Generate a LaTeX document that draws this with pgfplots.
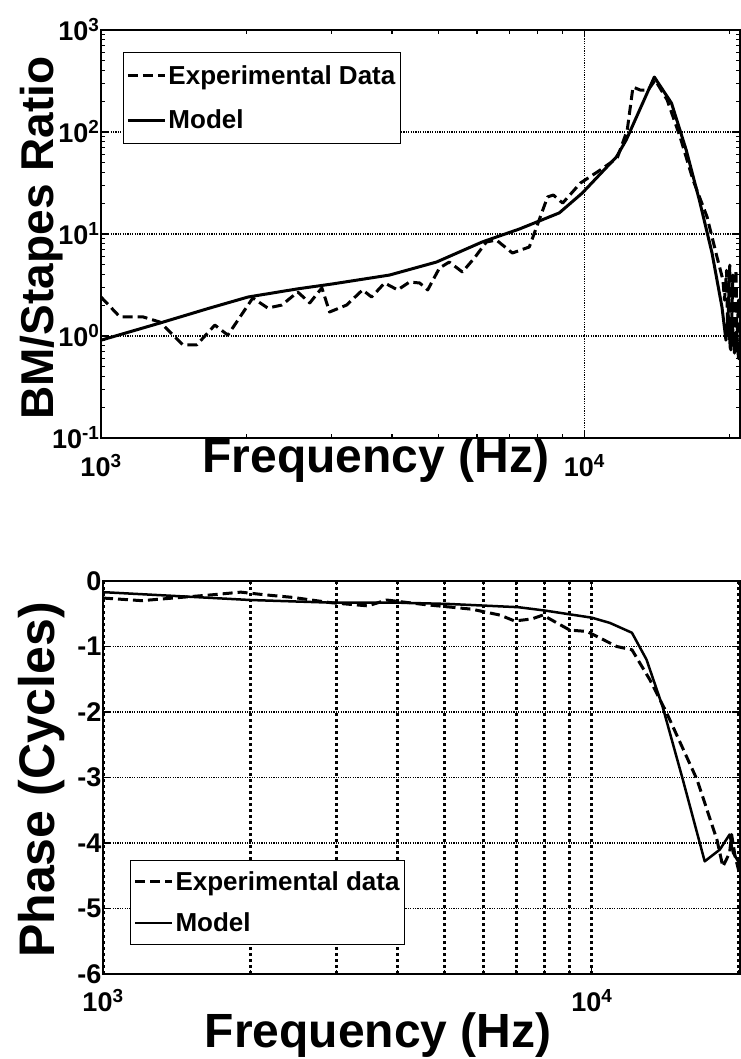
\documentclass[border=0pt]{standalone}
\usepackage{fontspec}
\setmainfont{Liberation Sans}
\usepackage{pgfplots}
\pgfplotsset{compat=1.18}
\pgfplotsset{
  mystyle/.style={
    scale only axis,
    axis line style={line width=2.5pt},
    tick align=inside,
    major tick length=7pt,
    minor tick length=4pt,
    tick style={line width=1.2pt, black},
    ticklabel style={font=\fontsize{27}{27}\selectfont\bfseries},
    label style={font=\fontsize{48}{48}\selectfont\bfseries},
    legend style={font=\fontsize{26}{26}\selectfont\bfseries, draw=black, line width=1pt,
      inner xsep=3pt, inner ysep=11pt, row sep=20pt},
    legend cell align=left,
    legend image code/.code={\draw[#1] (0pt,0pt) -- (37pt,0pt);},
  }
}
\begin{document}
\begin{tikzpicture}
\begin{axis}[mystyle, at={(101pt,-438pt)}, anchor=south west, width=639pt, height=408pt,
  xmode=log, ymode=log, xmin=1000, xmax=21000, ymin=0.1, ymax=1000,
  xtick={1000,10000}, xticklabels={10\textsuperscript{3},10\textsuperscript{4}},
  xticklabel style={yshift=-13pt},
  minor xtick={2000,3000,4000,5000,6000,7000,8000,9000,20000},
  ytick={0.1,1,10,100,1000},
  yticklabels={10\textsuperscript{-1},10\textsuperscript{0},10\textsuperscript{1},10\textsuperscript{2},10\textsuperscript{3}},
  yticklabel style={xshift=2pt},
  minor ytick={0.2,0.3,0.4,0.5,0.6,0.7,0.8,0.9,2,3,4,5,6,7,8,9,20,30,40,50,60,70,80,90,200,300,400,500,600,700,800,900},
  xmajorgrids, ymajorgrids,
  major grid style={black, line width=1.1pt, dash pattern=on 1.2pt off 1.2pt},
  xlabel={Frequency (Hz)},
  xlabel style={at={(axis description cs:0.43,-0.085)}, anchor=base},
  ylabel={BM/Stapes Ratio},
  ylabel style={at={(axis description cs:-0.075,0.49)}, anchor=base, font=\fontsize{46}{46}\selectfont\bfseries},
  legend style={at={(axis description cs:0.0344,0.946)}, anchor=north west},
]
\addplot[black, line width=3pt, dash pattern=on 10pt off 5pt, line join=round] coordinates {
(1000,2.41)(1094,1.54)(1221,1.54)(1324,1.37)(1477,0.82)(1579,0.82)(1720,1.28)(1830,1.02)(2061,2.36)(2213,1.88)(2366,2.01)(2553,2.70)(2704,2.11)(2864,2.96)(2972,1.72)(3222,2.01)(3477,2.83)(3630,2.41)(3862,3.31)(4110,2.83)(4348,3.38)(4563,3.31)(4742,2.83)(5015,4.64)(5256,5.31)(5594,4.24)(5924,5.82)(6273,8.35)(6577,8.73)(7100,6.51)(7696,7.46)(8395,23.1)(8630,24.1)(9020,20.1)(9817,31.6)(10790,42.4)(11700,55.6)(12270,104.6)(12610,276)(13050,258)(13550,258)(14020,323)(14840,206)(15790,89)(16790,33.8)(17950,14.7)(18820,5.95)(19360,3.54)(19500,2.25)(19700,4.4)(19800,1.14)(20000,4.96)(20100,0.73)(20300,3.96)(20400,0.82)(20600,4.44)(20700,0.91)(20850,2.25)(21000,1.5)
};
\addlegendentry{Experimental Data}
\addplot[black, line width=3pt, line join=round] coordinates {
(1000,0.91)(1324,1.34)(1679,1.88)(2014,2.41)(2541,2.89)(3013,3.24)(3954,3.96)(4945,5.31)(6147,8.35)(7343,11.2)(8876,16.1)(9902,25.2)(11650,56.9)(12210,83.5)(13960,346)(15150,192)(16250,66.6)(17300,21.5)(18380,6.5)(19270,1.92)(19640,0.91)(19850,1.6)(20050,0.75)(20250,1.3)(20450,0.68)(20650,1.1)(20850,0.6)(21000,0.8)
};
\addlegendentry{Model}
\end{axis}

\begin{axis}[mystyle, at={(103pt,-974pt)}, anchor=south west, width=637pt, height=393pt,
  xmode=log, xmin=1000, xmax=20100, ymin=-6, ymax=0,
  xtick={1000,10000}, xticklabels={10\textsuperscript{3},10\textsuperscript{4}},
  xticklabel style={yshift=-12pt},
  minor xtick={2000,3000,4000,5000,6000,7000,8000,9000,20000},
  ytick={-6,-5,-4,-3,-2,-1,0}, yticklabels={-6,-5,-4,-3,-2,-1,0},
  yticklabel style={xshift=2pt},
  xmajorgrids, xminorgrids, ymajorgrids,
  major x grid style={black, line width=3pt, dash pattern=on 3pt off 3pt},
  minor x grid style={black, line width=3pt, dash pattern=on 3pt off 3pt},
  major y grid style={black, line width=1.1pt, dash pattern=on 1.2pt off 1.2pt},
  xlabel={Frequency (Hz)},
  xlabel style={at={(axis description cs:0.432,-0.186)}, anchor=base},
  ylabel={Phase (Cycles)},
  ylabel style={at={(axis description cs:-0.0754,0.494)}, anchor=base, font=\fontsize{50}{50}\selectfont\bfseries},
  legend style={at={(axis description cs:0.0424,0.29)}, anchor=north west, inner ysep=9pt, row sep=17pt},
]
\addplot[black, line width=3pt, dash pattern=on 10pt off 5pt, line join=round] coordinates {
(1000,-0.26)(1200,-0.30)(1675,-0.21)(1914,-0.17)(2138,-0.21)(2443,-0.25)(2917,-0.33)(3483,-0.38)(3802,-0.29)(4550,-0.36)(5675,-0.43)(6486,-0.52)(6950,-0.61)(7534,-0.58)(7943,-0.52)(9016,-0.75)(9772,-0.77)(11250,-1.0)(12080,-1.05)(13150,-1.51)(14220,-2.01)(16410,-3.03)(18030,-3.95)(18540,-4.36)(19140,-4.15)(19320,-3.87)(19650,-4.21)(19950,-4.40)(20100,-4.5)
};
\addlegendentry{Experimental data}
\addplot[black, line width=2.5pt, line join=round] coordinates {
(1000,-0.17)(1500,-0.24)(2000,-0.29)(2917,-0.33)(3981,-0.33)(5082,-0.35)(7079,-0.40)(8000,-0.45)(10000,-0.56)(10890,-0.64)(12080,-0.79)(12940,-1.20)(13960,-1.92)(15350,-3.03)(17020,-4.28)(18280,-4.10)(19140,-3.87)(19450,-4.15)(20000,-4.30)(20100,-4.35)
};
\addlegendentry{Model}
\end{axis}
\pgfresetboundingbox
\path[use as bounding box] (0pt,-1059pt) rectangle (740pt,0pt);
\end{tikzpicture}
\end{document}
